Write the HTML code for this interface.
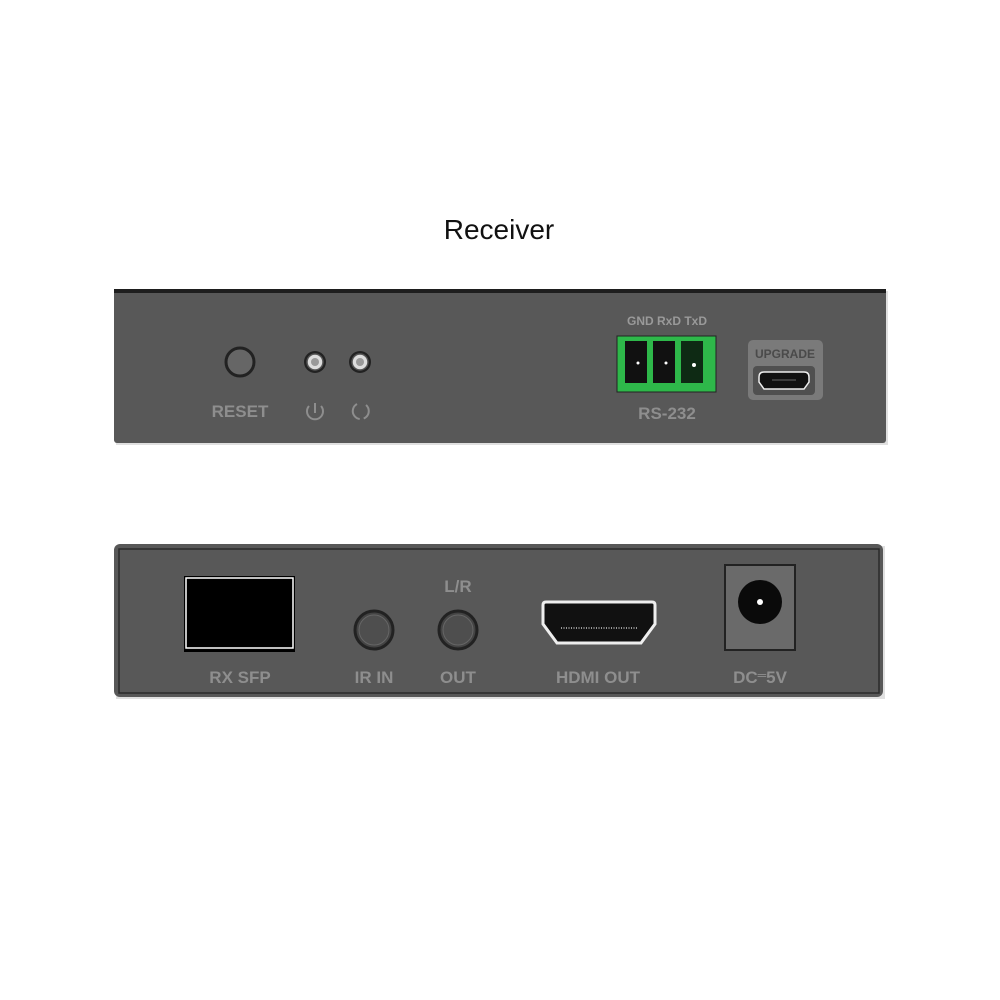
<!DOCTYPE html>
<html><head><style>body{margin:0;background:#fff}svg{display:block}</style></head><body>
<svg width="1000" height="1000" viewBox="0 0 1000 1000" xmlns="http://www.w3.org/2000/svg" font-family="Liberation Sans, sans-serif">
<rect width="1000" height="1000" fill="#fff"/>
<text x="499" y="239" font-size="28" text-anchor="middle" fill="#111">Receiver</text>
<!-- panel 1 -->
<rect x="116" y="291" width="772" height="154" fill="#ccc" opacity="0.6"/>
<rect x="114" y="289" width="772" height="154" rx="3" fill="#585858"/>
<rect x="114" y="289" width="772" height="4" fill="#1e1e1e"/>
<circle cx="240" cy="362" r="14" fill="#666" stroke="#222" stroke-width="3"/>
<circle cx="315" cy="362" r="11" fill="#222"/><circle cx="315" cy="362" r="8" fill="#ddd" stroke="#555" stroke-width="1.5"/><circle cx="315" cy="362" r="4" fill="#999"/>
<circle cx="360" cy="362" r="11" fill="#222"/><circle cx="360" cy="362" r="8" fill="#ddd" stroke="#555" stroke-width="1.5"/><circle cx="360" cy="362" r="4" fill="#999"/>
<text x="240" y="417" font-size="17" font-weight="bold" text-anchor="middle" fill="#8e8e8e">RESET</text>
<path d="M309 406 A8 8 0 1 0 321 406" fill="none" stroke="#8e8e8e" stroke-width="2"/><line x1="315" y1="403" x2="315" y2="413" stroke="#8e8e8e" stroke-width="2"/>
<path d="M357 404 A8 8 0 1 0 366 405" fill="none" stroke="#8e8e8e" stroke-width="2" stroke-dasharray="20 4"/>
<text x="667" y="325" font-size="12" font-weight="bold" text-anchor="middle" fill="#9a9a9a">GND RxD TxD</text>
<rect x="617" y="336" width="99" height="56" fill="#2eb84a" stroke="#222"/>
<rect x="625" y="341" width="22" height="42" fill="#111"/><rect x="653" y="341" width="22" height="42" fill="#111"/><rect x="681" y="341" width="22" height="42" fill="#0e2a14"/>
<circle cx="638" cy="363" r="1.5" fill="#fff"/><circle cx="666" cy="363" r="1.5" fill="#fff"/><circle cx="694" cy="365" r="2" fill="#fff"/>
<text x="667" y="419" font-size="17" font-weight="bold" text-anchor="middle" fill="#8e8e8e">RS-232</text>
<rect x="748" y="340" width="75" height="60" rx="5" fill="#7a7a7a"/>
<text x="785" y="358" font-size="12" font-weight="bold" text-anchor="middle" fill="#4a4a4a">UPGRADE</text>
<rect x="753" y="366" width="62" height="29" rx="4" fill="#505050"/>
<path d="M759 377 Q759 372 764 372 H804 Q809 372 809 377 V382 L804 389 H764 L759 382 Z" fill="#111" stroke="#eee" stroke-width="1.5"/>
<line x1="772" y1="380" x2="796" y2="380" stroke="#666"/>
<!-- panel 2 -->
<rect x="116" y="546" width="769" height="153" fill="#ccc" opacity="0.6"/>
<rect x="114" y="544" width="769" height="153" rx="6" fill="#585858"/>
<rect x="119" y="549" width="760" height="144" fill="none" stroke="#2a2a2a" stroke-width="1.5"/>
<rect x="184" y="576" width="111" height="76" fill="#000"/>
<rect x="186" y="578" width="107" height="70" fill="#000" stroke="#fff" stroke-width="1.5"/>
<text x="240" y="683" font-size="17" font-weight="bold" text-anchor="middle" fill="#8e8e8e">RX SFP</text>
<circle cx="374" cy="630" r="19" fill="#444" stroke="#222" stroke-width="3"/><circle cx="374" cy="630" r="15" fill="#4e4e4e" stroke="#666" stroke-width="1"/>
<circle cx="458" cy="630" r="19" fill="#444" stroke="#222" stroke-width="3"/><circle cx="458" cy="630" r="15" fill="#4e4e4e" stroke="#666" stroke-width="1"/>
<text x="458" y="592" font-size="17" font-weight="bold" text-anchor="middle" fill="#8e8e8e">L/R</text>
<text x="374" y="683" font-size="17" font-weight="bold" text-anchor="middle" fill="#8e8e8e">IR IN</text>
<text x="458" y="683" font-size="17" font-weight="bold" text-anchor="middle" fill="#8e8e8e">OUT</text>
<path d="M543 605 Q543 602 546 602 H652 Q655 602 655 605 V624 L641 643 H557 L543 624 Z" fill="#111" stroke="#eee" stroke-width="3"/>
<line x1="561" y1="628" x2="637" y2="628" stroke="#999" stroke-width="2" stroke-dasharray="1 1.5"/>
<text x="598" y="683" font-size="17" font-weight="bold" text-anchor="middle" fill="#8e8e8e">HDMI OUT</text>
<rect x="725" y="565" width="70" height="85" fill="#6a6a6a" stroke="#222" stroke-width="2"/>
<circle cx="760" cy="602" r="22" fill="#0a0a0a"/><circle cx="760" cy="602" r="3" fill="#fff"/>
<text x="760" y="683" font-size="17" font-weight="bold" text-anchor="middle" fill="#8e8e8e">DC<tspan font-size="12" dy="-4">═</tspan><tspan dy="4">5V</tspan></text>
</svg>
</body></html>
